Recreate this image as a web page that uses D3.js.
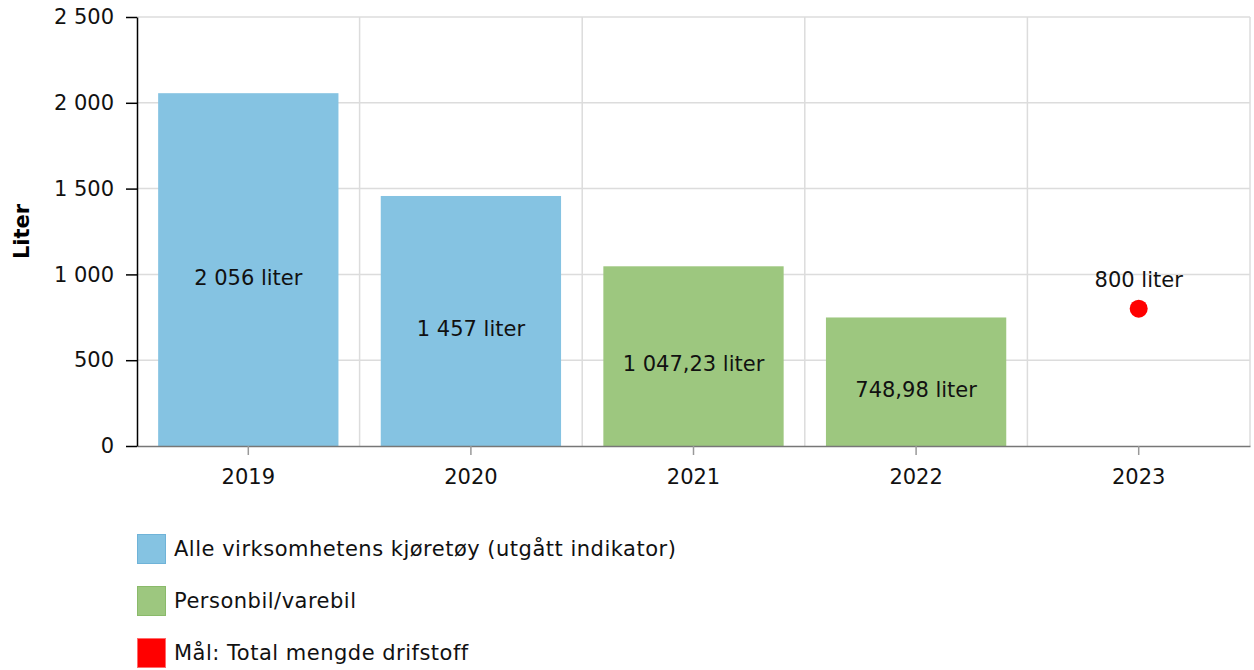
<!DOCTYPE html>
<html>
<head>
<meta charset="utf-8">
<script src="https://cdn.jsdelivr.net/npm/d3@7"></script>
<style>
  body { margin: 0; background: #fff; }
  svg { font-family: "DejaVu Sans", Verdana, sans-serif; }
</style>
</head>
<body>
<svg id="chart" width="1254" height="670"></svg>
<script>
// data
var years = ["2019", "2020", "2021", "2022", "2023"];
var barSeries = ["Alle virksomhetens kjøretøy (utgått indikator)", "Alle virksomhetens kjøretøy (utgått indikator)", "Personbil/varebil", "Personbil/varebil"];
var barValues = [2056, 1457, 1047.23, 748.98];
var barLabels = ["2 056 liter", "1 457 liter", "1 047,23 liter", "748,98 liter"];
var goalYear = "2023";
var goalValue = 800;
var goalLabel = "800 liter";
var yTicks = [0, 500, 1000, 1500, 2000, 2500];
var legendNames = ["Alle virksomhetens kjøretøy (utgått indikator)", "Personbil/varebil", "Mål: Total mengde drifstoff"];
var legendColors = ["#85c3e2", "#9dc77f", "#ff0000"];
var legendStrokes = ["#6fb3d8", "#8aba6a", "#ff6b6b"];

var svg = d3.select("#chart");
var plotL = 137, plotR = 1250, plotT = 17, plotB = 446;
var fs = 21;

var x = d3.scaleBand().domain(years).range([plotL, plotR]).paddingInner(0.19).paddingOuter(0.095);
var y = d3.scaleLinear().domain([0, 2500]).range([plotB, plotT]);
var color = d3.scaleOrdinal().domain(legendNames).range(legendColors);

// grid
var step = (plotR - plotL) / years.length;
svg.append("g").selectAll("line")
  .data(yTicks.slice(1))
  .enter().append("line")
  .attr("x1", plotL).attr("x2", plotR)
  .attr("y1", d => y(d)).attr("y2", d => y(d))
  .attr("stroke", "#dcdcdc").attr("stroke-width", 1.5);

svg.append("g").selectAll("line")
  .data(d3.range(1, years.length + 1))
  .enter().append("line")
  .attr("x1", i => plotL + i * step).attr("x2", i => plotL + i * step)
  .attr("y1", plotT).attr("y2", plotB)
  .attr("stroke", "#dcdcdc").attr("stroke-width", 1.5);

// bars
svg.append("g").selectAll("rect")
  .data(barValues)
  .enter().append("rect")
  .attr("x", (d, i) => x(years[i]))
  .attr("width", x.bandwidth())
  .attr("y", d => y(d))
  .attr("height", d => plotB - y(d))
  .attr("fill", (d, i) => color(barSeries[i]));

svg.append("g").selectAll("text")
  .data(barValues)
  .enter().append("text")
  .attr("x", (d, i) => x(years[i]) + x.bandwidth() / 2)
  .attr("y", d => (y(d) + plotB) / 2 + 8)
  .attr("dy", "0.35em")
  .attr("text-anchor", "middle")
  .attr("font-size", fs)
  .attr("fill", "#111")
  .text((d, i) => barLabels[i]);

// goal point
var gx = x(goalYear) + x.bandwidth() / 2;
svg.append("circle")
  .attr("cx", gx).attr("cy", y(goalValue))
  .attr("r", 9)
  .attr("fill", "#ff0000");
svg.append("text")
  .attr("x", gx).attr("y", y(goalValue) - 29)
  .attr("dy", "0.35em")
  .attr("text-anchor", "middle")
  .attr("font-size", fs)
  .attr("fill", "#111")
  .text(goalLabel);

// x axis
var xAxis = svg.append("g")
  .attr("transform", `translate(0,${plotB})`)
  .call(d3.axisBottom(x).tickSize(9).tickPadding(14).tickSizeOuter(0));
xAxis.select(".domain").attr("stroke", "#777").attr("stroke-width", 1.5);
xAxis.selectAll(".tick line").attr("stroke", "#999").attr("stroke-width", 1.5);
xAxis.selectAll("text").attr("font-size", fs).attr("fill", "#111").attr("font-family", "DejaVu Sans, Verdana, sans-serif");

// y axis
var yAxis = svg.append("g")
  .attr("transform", `translate(${plotL},0)`)
  .call(d3.axisLeft(y).tickValues(yTicks).tickSize(11).tickPadding(12).tickSizeOuter(0)
    .tickFormat(d => d3.format(",")(d).replace(/,/g, " ")));
yAxis.select(".domain").attr("stroke", "#000").attr("stroke-width", 1.5);
yAxis.selectAll(".tick line").attr("stroke", "#000").attr("stroke-width", 1.5);
yAxis.selectAll("text").attr("font-size", fs).attr("fill", "#111").attr("font-family", "DejaVu Sans, Verdana, sans-serif");

svg.append("text")
  .attr("transform", `translate(29,${(plotT + plotB) / 2}) rotate(-90)`)
  .attr("text-anchor", "middle")
  .attr("font-size", fs)
  .attr("font-weight", "bold")
  .attr("fill", "#000")
  .text("Liter");

// legend
var legend = svg.append("g").selectAll("g")
  .data(legendNames)
  .enter().append("g")
  .attr("transform", (d, i) => `translate(137,${534 + i * 52})`);
legend.append("rect")
  .attr("x", 0.5).attr("y", 0.5)
  .attr("width", 28).attr("height", 29)
  .attr("fill", (d, i) => legendColors[i])
  .attr("stroke", (d, i) => legendStrokes[i]);
legend.append("text")
  .attr("x", 37).attr("y", 15)
  .attr("dy", "0.35em")
  .attr("font-size", fs)
  .attr("letter-spacing", 0.5)
  .attr("fill", "#111")
  .text(d => d);
</script>
</body>
</html>
